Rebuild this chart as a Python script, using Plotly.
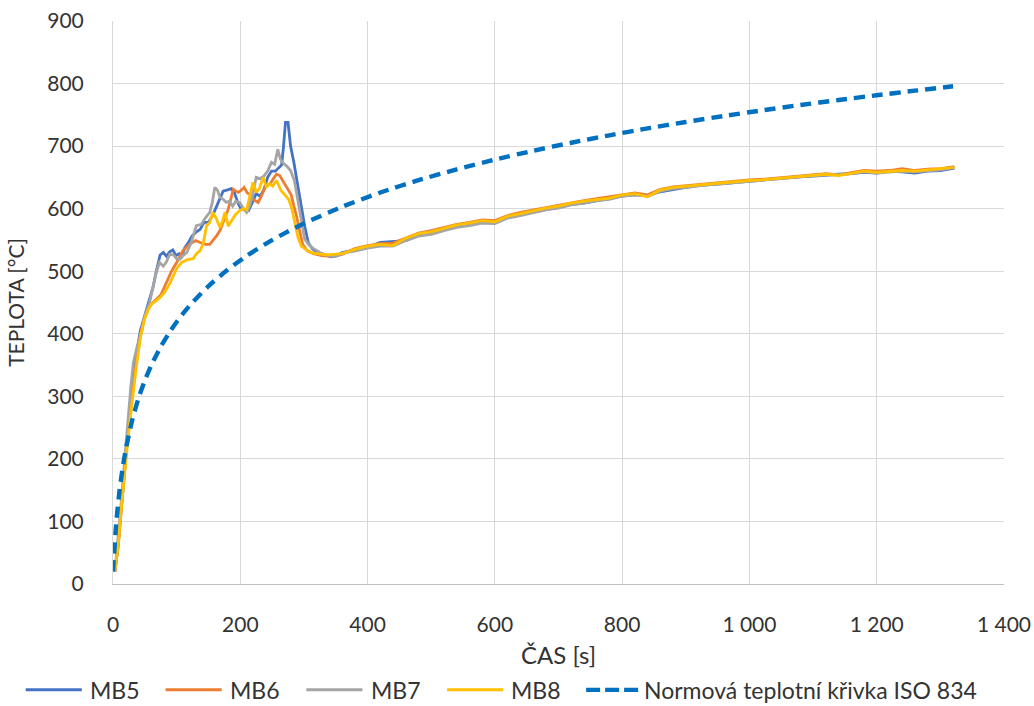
import plotly.graph_objects as go

# ---- measured furnace temperatures, early phase (flashover and peak) ----
t_mb5_early = [3, 8, 12, 16, 20, 25, 29, 33, 38, 43, 50, 57, 63, 68, 74, 79, 84, 89, 94, 99,
               104, 108, 113, 118, 124, 130, 137, 143, 150, 157, 163, 168, 173, 180, 186, 191,
               196, 201, 207, 213, 219, 225, 231, 237, 243, 249, 255, 260, 265, 268, 271, 275,
               279, 284, 288, 294, 301, 307, 314, 322, 332, 343, 352]
mb5_early = [20, 60, 110, 160, 205, 260, 305, 340, 375, 405, 430, 455, 475, 500, 526, 530, 524,
             531, 534, 525, 528, 524, 538, 545, 556, 562, 567, 578, 578, 590, 605, 615, 628, 630,
             632, 625, 610, 600, 598, 597, 610, 624, 620, 630, 650, 660, 660, 665, 670, 700, 738,
             738, 700, 675, 652, 612, 573, 545, 535, 530, 526, 523, 525]

t_mb6_early = [3, 9, 14, 19, 24, 29, 35, 41, 48, 55, 61, 68, 75, 84, 92, 100, 110, 120, 130, 137,
               145, 152, 158, 163, 168, 173, 178, 181, 185, 189, 193, 197, 202, 206, 211, 216,
               220, 225, 228, 233, 238, 242, 247, 252, 257, 262, 267, 271, 275, 280, 284, 288,
               293, 298, 305, 315, 328, 340, 352]
mb6_early = [20, 70, 130, 190, 250, 295, 345, 390, 420, 440, 448, 455, 462, 482, 500, 514, 533,
             543, 549, 546, 543, 543, 550, 557, 565, 578, 588, 599, 615, 631, 628, 626, 630, 634,
             625, 622, 615, 612, 610, 620, 632, 637, 640, 648, 655, 653, 645, 637, 631, 622, 605,
             590, 566, 543, 533, 528, 525, 524, 526]

t_mb7_early = [3, 8, 12, 16, 20, 24, 28, 32, 38, 45, 49, 57, 63, 68, 73, 79, 84, 89, 95, 100,
               105, 110, 116, 123, 131, 139, 145, 152, 156, 160, 164, 168, 173, 178, 183, 188,
               193, 199, 205, 210, 215, 220, 225, 231, 237, 243, 249, 254, 259, 263, 268, 273,
               279, 285, 289, 294, 301, 308, 314, 325, 335, 347, 357]
mb7_early = [20, 70, 120, 170, 220, 270, 315, 354, 380, 402, 426, 448, 477, 498, 514, 508, 515,
             527, 526, 520, 519, 525, 530, 546, 573, 575, 585, 594, 610, 634, 630, 618, 615, 610,
             612, 604, 612, 610, 600, 594, 605, 625, 650, 648, 652, 660, 674, 671, 695, 679, 672,
             668, 661, 645, 622, 590, 552, 542, 537, 530, 526, 523, 526]

t_mb8_early = [3, 8, 12, 17, 21, 26, 31, 37, 44, 50, 56, 61, 68, 74, 81, 89, 100, 108, 116, 126,
               131, 137, 142, 147, 152, 157, 162, 168, 172, 176, 181, 186, 192, 199, 205, 210,
               215, 220, 225, 230, 236, 241, 246, 251, 257, 264, 270, 276, 281, 286, 291, 296,
               302, 308, 315, 325, 335, 347]
mb8_early = [20, 60, 110, 170, 205, 255, 300, 350, 400, 425, 440, 448, 453, 458, 466, 480, 504,
             514, 518, 520, 528, 533, 545, 573, 578, 594, 585, 570, 580, 594, 572, 580, 590, 597,
             600, 598, 620, 642, 626, 632, 650, 634, 640, 636, 645, 629, 622, 615, 600, 575, 553,
             540, 535, 531, 529, 527, 526, 527]

# ---- measured temperatures, later phase (common time grid) ----
t_late = [360, 380, 400, 420, 440, 460, 480, 500, 520, 540, 560, 580, 600, 620, 640, 660, 680,
          700, 720, 740, 760, 780, 800, 820, 840, 860, 880, 900, 920, 940, 960, 980, 1000, 1020,
          1040, 1060, 1080, 1100, 1120, 1140, 1160, 1180, 1200, 1220, 1240, 1260, 1280, 1300, 1322]
mb5_late = [530, 534, 538, 546, 547, 549, 557, 561, 566, 571, 575, 578, 577, 586, 590, 594, 598,
            602, 607, 609, 613, 616, 620, 622, 621, 627, 631, 634, 637, 638, 640, 642, 644, 645,
            647, 649, 651, 652, 654, 655, 656, 658, 657, 660, 659, 657, 660, 661, 665]
mb6_late = [527, 536, 541, 544, 545, 553, 561, 565, 570, 575, 578, 582, 581, 589, 594, 598, 602,
            606, 610, 613, 616, 619, 623, 625, 622, 631, 635, 637, 639, 641, 643, 645, 646, 647,
            649, 651, 653, 655, 656, 654, 658, 661, 660, 661, 664, 661, 663, 664, 667]
mb7_late = [529, 532, 537, 540, 540, 549, 556, 559, 565, 570, 573, 577, 576, 585, 589, 594, 598,
            601, 606, 609, 613, 615, 620, 622, 620, 628, 632, 634, 637, 639, 640, 642, 644, 645,
            647, 649, 651, 653, 654, 654, 656, 659, 657, 659, 660, 659, 661, 662, 666]
mb8_late = [528, 535, 540, 543, 541, 553, 560, 563, 569, 574, 577, 581, 579, 588, 592, 597, 601,
            604, 609, 612, 615, 617, 622, 624, 619, 630, 634, 636, 638, 640, 642, 644, 645, 646,
            648, 650, 652, 654, 655, 653, 657, 660, 658, 660, 661, 660, 662, 663, 666]

# ---- standard fire curve ISO 834 ----
t_iso = [0, 5, 10, 15, 20, 30, 40, 50, 60, 75, 90, 105, 120, 150, 180, 210, 240, 270, 300, 360,
         420, 480, 540, 600, 660, 720, 780, 840, 900, 960, 1020, 1080, 1140, 1200, 1260, 1320]
iso_834 = [20, 96.5, 147.0, 184.6, 214.7, 261.1, 296.6, 325.2, 349.2, 379.3, 404.3, 425.8, 444.5,
           476.2, 502.3, 524.5, 543.9, 561.0, 576.4, 603.1, 625.8, 645.5, 662.8, 678.4, 692.5,
           705.4, 717.3, 728.3, 738.6, 748.2, 757.2, 765.7, 773.7, 781.3, 788.6, 795.6]

x_ticks = [0, 200, 400, 600, 800, 1000, 1200, 1400]
x_tick_labels = ["0", "200", "400", "600", "800", "1 000", "1 200", "1 400"]
y_ticks = [0, 100, 200, 300, 400, 500, 600, 700, 800, 900]

FONT = "Lato"
TEXT = "#333333"
GRID = "#D9D9D9"
ISO_NAME = "Normová teplotní křivka ISO 834"

series = [
    ("MB5", t_mb5_early + t_late, mb5_early + mb5_late, "#4472C4"),
    ("MB6", t_mb6_early + t_late, mb6_early + mb6_late, "#ED7D31"),
    ("MB7", t_mb7_early + t_late, mb7_early + mb7_late, "#A5A5A5"),
    ("MB8", t_mb8_early + t_late, mb8_early + mb8_late, "#FFC000"),
]
ISO_COLOR = "#0070C0"

fig = go.Figure()
for name, tx, ty, color in series:
    fig.add_trace(go.Scatter(x=tx, y=ty, name=name, mode="lines",
                             line=dict(color=color, width=2.8)))

fig.add_trace(go.Scatter(x=t_iso, y=iso_834, name=ISO_NAME, mode="lines",
                         line=dict(color=ISO_COLOR, width=4.4, dash="11px,7px",
                                   shape="spline", smoothing=0.6)))

# Legend row under the axis: long line keys followed by their labels (paper coordinates)
legend_entries = [(s[0], s[3], "solid") for s in series] + [(ISO_NAME, ISO_COLOR, "dash")]
key_x0 = [-0.098, 0.059, 0.217, 0.375, 0.531]
key_len = 0.063
legend_y = -0.188
for (label, color, dash), x0 in zip(legend_entries, key_x0):
    fig.add_shape(type="line", xref="paper", yref="paper",
                  x0=x0, x1=x0 + key_len, y0=legend_y, y1=legend_y,
                  line=dict(color=color, width=4.4 if dash == "dash" else 3,
                            dash="14px,5px" if dash == "dash" else "solid"))
    fig.add_annotation(xref="paper", yref="paper", x=x0 + key_len + (0.0 if dash == "dash" else 0.007),
                       y=legend_y, text=label, showarrow=False, xanchor="left", yanchor="middle",
                       font=dict(family=FONT, size=23, color=TEXT))

fig.update_layout(
    width=1034, height=706,
    margin=dict(l=113, r=30, t=21, b=122, autoexpand=False),
    paper_bgcolor="white", plot_bgcolor="white",
    font=dict(family=FONT, size=20, color=TEXT),
    showlegend=False,
)
fig.update_xaxes(range=[0, 1400], tickvals=x_ticks, ticktext=x_tick_labels,
                 showgrid=True, gridcolor=GRID, gridwidth=1, zeroline=False,
                 showline=True, linecolor="#BFBFBF", linewidth=1,
                 ticks="outside", ticklen=22, tickcolor="rgba(0,0,0,0)",
                 tickfont=dict(family=FONT, size=21, color=TEXT),
                 title=dict(text="ČAS [s]", standoff=11, font=dict(family=FONT, size=24, color=TEXT)))
fig.update_yaxes(range=[0, 900], tickvals=y_ticks,
                 showgrid=True, gridcolor=GRID, gridwidth=1, zeroline=False,
                 showline=True, linecolor=GRID, linewidth=1,
                 ticks="outside", ticklen=24, tickcolor="rgba(0,0,0,0)",
                 tickfont=dict(family=FONT, size=21, color=TEXT),
                 title=dict(text="TEPLOTA [°C]", standoff=16, font=dict(family=FONT, size=21, color=TEXT)))

fig.write_html("out.html")
